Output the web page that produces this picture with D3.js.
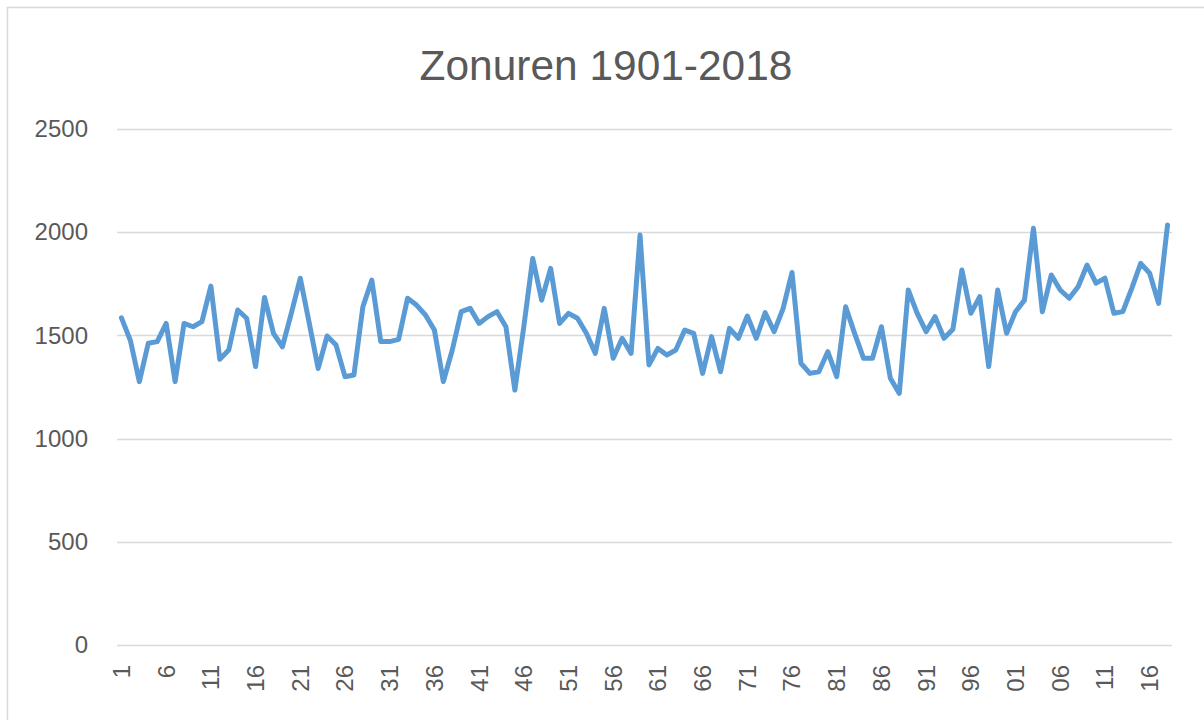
<!DOCTYPE html>
<html>
<head>
<meta charset="utf-8">
<script src="https://cdn.jsdelivr.net/npm/d3@7"></script>
<style>
  html, body { margin: 0; padding: 0; background: #fff; }
  svg { display: block; }
  text { font-family: "Liberation Sans", Arial, sans-serif; fill: #595959; }
</style>
</head>
<body>
<svg id="chart" width="1204" height="720"></svg>
<script>
const title = "Zonuren 1901-2018";
const years = d3.range(1901, 2019);
const sunHours = [
  1585, 1475, 1276, 1462, 1470, 1558, 1276, 1558, 1542, 1567,
  1739, 1384, 1429, 1623, 1583, 1349, 1684, 1510, 1445, 1608,
  1777, 1560, 1340, 1497, 1453, 1300, 1308, 1639, 1768, 1470,
  1470, 1481, 1680, 1647, 1599, 1526, 1276, 1429, 1615, 1631,
  1558, 1591, 1615, 1542, 1235, 1542, 1873, 1671, 1825, 1558,
  1607, 1583, 1510, 1413, 1631, 1389, 1486, 1413, 1986, 1357,
  1437, 1405, 1429, 1526, 1510, 1316, 1494, 1324, 1534, 1486,
  1594, 1486, 1610, 1518, 1630, 1805, 1365, 1316, 1324, 1421,
  1300, 1639, 1510, 1389, 1389, 1542, 1292, 1219, 1720, 1607,
  1518, 1591, 1486, 1530, 1817, 1607, 1688, 1349, 1720, 1510,
  1615, 1671, 2019, 1615, 1793, 1720, 1680, 1736, 1841, 1753,
  1777, 1607, 1615, 1728, 1849, 1801, 1655, 2035
];
const yTicks = [0, 500, 1000, 1500, 2000, 2500];
const xLabelEvery = 5;

const svg = d3.select("#chart");
const plot = { left: 117, right: 1172, top: 129, bottom: 645 };

// chart border (top + left visible)
svg.append("path")
  .attr("d", "M7.5,720 L7.5,7.5 L1204,7.5")
  .attr("fill", "none").attr("stroke", "#d9d9d9").attr("stroke-width", 1.5);

const x = d3.scaleBand().domain(years).range([plot.left, plot.right]);
const y = d3.scaleLinear().domain([0, 2500]).range([plot.bottom, plot.top]);

// gridlines
svg.append("g").selectAll("line").data(yTicks).join("line")
  .attr("x1", plot.left).attr("x2", plot.right)
  .attr("y1", d => Math.round(y(d)) + 0.5).attr("y2", d => Math.round(y(d)) + 0.5)
  .attr("stroke", "#d9d9d9").attr("stroke-width", 1.5);

// y axis labels
const yAxis = d3.axisLeft(y).tickValues(yTicks).tickFormat(d3.format("d")).tickSize(0).tickPadding(0);
const gy = svg.append("g").attr("transform", "translate(88,0)").call(yAxis);
gy.select(".domain").remove();
gy.selectAll("text").attr("font-size", 24).attr("fill", "#595959")
  .style("font-family", "'Liberation Sans', Arial, sans-serif");

// x axis labels
const xAxis = d3.axisBottom(x)
  .tickValues(years.filter((d, i) => i % xLabelEvery === 0))
  .tickFormat(d => d < 2000 ? String(d - 1900) : String(d - 2000).padStart(2, "0"))
  .tickSize(0).tickPadding(0);
const gx = svg.append("g").attr("transform", `translate(0,${plot.bottom})`).call(xAxis);
gx.select(".domain").remove();
gx.selectAll("text")
  .attr("font-size", 24).attr("fill", "#595959")
  .style("font-family", "'Liberation Sans', Arial, sans-serif")
  .attr("text-anchor", "end")
  .attr("dy", "0.35em")
  .attr("transform", "translate(0,20) rotate(-90)")
  .attr("x", 0).attr("y", 0);

// line
const line = d3.line()
  .x((d, i) => x(years[i]) + x.bandwidth() / 2)
  .y(d => y(d));
svg.append("path").datum(sunHours)
  .attr("d", line)
  .attr("fill", "none")
  .attr("stroke", "#5b9bd5")
  .attr("stroke-width", 5)
  .attr("stroke-linejoin", "round")
  .attr("stroke-linecap", "round");

// title
const t = svg.append("text")
  .attr("x", 606).attr("y", 80)
  .attr("text-anchor", "middle")
  .attr("font-size", 43)
  .text(title);
const w = t.node().getComputedTextLength();
if (w > 0) t.attr("font-size", 43 * 373 / w);
</script>
</body>
</html>
